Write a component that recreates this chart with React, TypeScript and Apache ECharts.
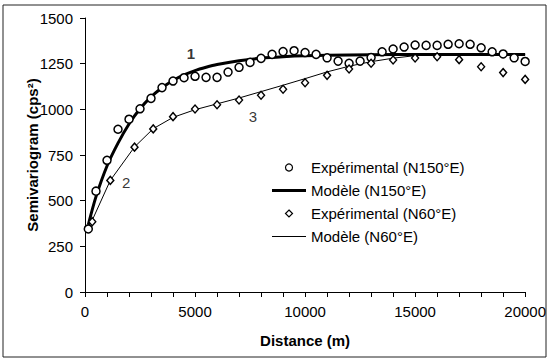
import React, { useEffect, useRef } from "react";
import * as echarts from "echarts";

// Experimental semivariogram, direction N150°E: [distance (m), value]
const expN150: [number, number][] = [
  [150, 345], [500, 552], [1000, 721], [1500, 891], [2000, 946], [2500, 1003],
  [3000, 1060], [3500, 1119], [4000, 1155], [4500, 1173], [5000, 1181], [5500, 1175],
  [6000, 1175], [6500, 1204], [7000, 1230], [7500, 1257], [8000, 1279], [8500, 1301],
  [9000, 1316], [9500, 1321], [10000, 1311], [10500, 1301], [11000, 1282], [11500, 1264],
  [12000, 1252], [12500, 1264], [13000, 1284], [13500, 1315], [14000, 1330], [14500, 1341],
  [15000, 1352], [15500, 1350], [16000, 1350], [16500, 1356], [17000, 1359], [17500, 1356],
  [18000, 1337], [18500, 1315], [19000, 1303], [19500, 1282], [20000, 1262],
];

// Model, direction N150°E
const modN150: [number, number][] = [
  [150, 368], [500, 522], [1000, 690], [1500, 815], [2000, 920], [2500, 1003],
  [3000, 1068], [3500, 1118], [4000, 1158], [4500, 1188], [5000, 1212], [5500, 1230],
  [6000, 1245], [7000, 1266], [8000, 1280], [9000, 1288], [10000, 1293], [12000, 1298],
  [14000, 1300], [20000, 1300],
];

// Experimental semivariogram, direction N60°E
const expN60: [number, number][] = [
  [330, 385], [1150, 611], [2250, 793], [3100, 893], [4000, 960], [5000, 1002],
  [6000, 1025], [7000, 1051], [8000, 1077], [9000, 1110], [10000, 1146], [11000, 1186],
  [12000, 1221], [13000, 1252], [14000, 1270], [15000, 1281], [16000, 1288], [17000, 1272],
  [18000, 1233], [19000, 1201], [20000, 1164],
];

// Model, direction N60°E
const modN60: [number, number][] = [
  [250, 372], [1150, 611], [2250, 794], [3100, 894], [4000, 956], [5000, 998],
  [6000, 1030], [7000, 1062], [8000, 1097], [9000, 1132], [10000, 1168], [11000, 1205],
  [12000, 1236], [13000, 1261], [14000, 1280], [15000, 1294], [15700, 1300], [20000, 1300],
];

// Curve annotations: [distance, value, text]
const curveLabels: [number, number, string][] = [
  [4817, 1303, "1"],
  [1869, 598, "2"],
  [7630, 960, "3"],
];

const xTicks = { min: 0, max: 20000, interval: 1000, labelEvery: 5000 };
const yTicks = { min: 0, max: 1500, interval: 250 };

const names = {
  e150: "Expérimental (N150°E)",
  m150: "Modèle (N150°E)",
  e60: "Expérimental (N60°E)",
  m60: "Modèle (N60°E)",
};

const FONT = "Arial, 'Liberation Sans', sans-serif";

export default function App() {
  const ref = useRef<HTMLDivElement>(null);
  useEffect(() => {
    if (!ref.current) return;
    const chart = echarts.init(ref.current, null, { renderer: "svg" });
    const hollow = { color: "#fff", borderColor: "#000", borderWidth: 1.2 };
    chart.setOption({
      animation: false,
      backgroundColor: "#fff",
      textStyle: { fontFamily: FONT },
      grid: { left: 85, right: 21, top: 18, bottom: 68, containLabel: false },
      graphic: [
        {
          type: "rect",
          shape: { x: 3, y: 5, width: 543, height: 352 },
          style: { fill: "none", stroke: "#222", lineWidth: 1 },
          silent: true,
          z: -1,
        },
      ],
      legend: {
        orient: "vertical",
        left: 272,
        top: 160,
        itemWidth: 34,
        itemHeight: 7,
        itemGap: 8,
        padding: 0,
        textStyle: { fontSize: 15, color: "#000", fontFamily: FONT },
        data: [
          { name: names.e150, icon: "circle", itemStyle: hollow },
          { name: names.m150, icon: "path://M0,0L12,0L12,1L0,1Z" },
          { name: names.e60, icon: "path://M0,-1L1,0L0,1L-1,0Z", itemStyle: hollow },
          { name: names.m60, icon: "path://M0,0L34,0L34,1L0,1Z" },
        ],
      },
      xAxis: {
        type: "value",
        min: xTicks.min,
        max: xTicks.max,
        interval: xTicks.interval,
        name: "Distance (m)",
        nameLocation: "middle",
        nameGap: 41,
        nameMoveOverlap: false,
        nameTextStyle: { fontSize: 15, fontWeight: "bold", color: "#000", fontFamily: FONT },
        axisLine: { show: true, lineStyle: { color: "#000", width: 1 } },
        axisTick: { show: true, length: 5, lineStyle: { color: "#000" } },
        axisLabel: {
          fontSize: 15,
          color: "#000",
          margin: 12,
          formatter: (v: number) => (v % xTicks.labelEvery === 0 ? String(v) : ""),
        },
        splitLine: { show: false },
      },
      yAxis: {
        type: "value",
        min: yTicks.min,
        max: yTicks.max,
        interval: yTicks.interval,
        name: "Semivariogram (cps²)",
        nameLocation: "middle",
        nameGap: 45,
        nameMoveOverlap: false,
        nameTextStyle: { fontSize: 15, fontWeight: "bold", color: "#000", fontFamily: FONT },
        axisLine: { show: true, lineStyle: { color: "#000", width: 1 } },
        axisTick: { show: true, length: 5, lineStyle: { color: "#000" } },
        axisLabel: { fontSize: 15, color: "#000", margin: 12, formatter: (v: number) => String(v) },
        splitLine: { show: false },
      },
      series: [
        {
          name: names.m150,
          type: "line",
          data: modN150,
          symbol: "none",
          smooth: 0.3,
          lineStyle: { color: "#000", width: 3 },
          itemStyle: { color: "#000" },
          z: 2,
        },
        {
          name: names.m60,
          type: "line",
          data: modN60,
          symbol: "none",
          lineStyle: { color: "#000", width: 1 },
          itemStyle: { color: "#000" },
          z: 2,
        },
        {
          name: names.e150,
          type: "scatter",
          data: expN150,
          symbol: "circle",
          symbolSize: 8,
          itemStyle: { color: "#fff", borderColor: "#000", borderWidth: 1.5, opacity: 1 },
          z: 3,
        },
        {
          name: names.e60,
          type: "scatter",
          data: expN60,
          symbol: "diamond",
          symbolSize: [7, 8],
          itemStyle: { color: "#fff", borderColor: "#000", borderWidth: 1.4, opacity: 1 },
          z: 3,
        },
        {
          name: "labels",
          type: "scatter",
          data: curveLabels.map((d) => ({
            value: [d[0], d[1]],
            label: {
              show: true,
              formatter: d[2],
              position: "inside",
              fontSize: 15,
              color: "#000",
              fontWeight: d[2] === "1" ? "bold" : "normal",
              fontFamily: FONT,
            },
          })),
          symbolSize: 1,
          itemStyle: { color: "transparent" },
          silent: true,
          z: 4,
        },
      ],
    });
    return () => chart.dispose();
  }, []);
  return <div ref={ref} style={{ width: 549, height: 360, position: "absolute", left: 0, top: 0 }} />;
}
